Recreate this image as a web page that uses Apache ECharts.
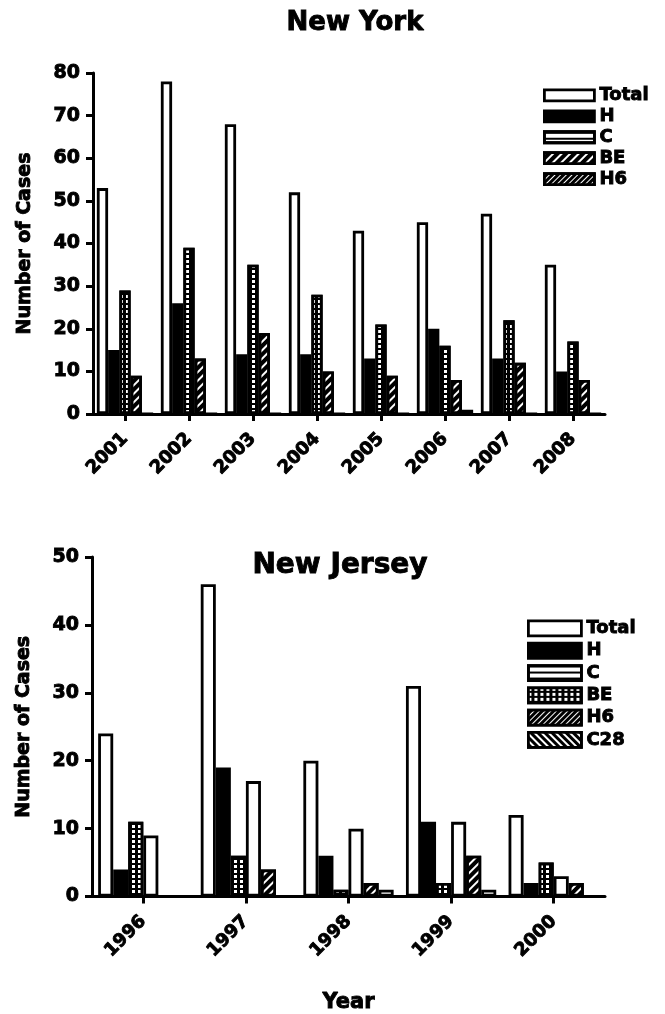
<!DOCTYPE html>
<html>
<head>
<meta charset="utf-8">
<script src="https://cdn.jsdelivr.net/npm/echarts@6/dist/echarts.min.js"></script>
<style>
html,body{margin:0;padding:0;background:#fff;}
#c{width:665px;height:1014px;}
</style>
</head>
<body>
<div id="c"></div>
<script>
// ---- data ----
var nyYears = ['2001','2002','2003','2004','2005','2006','2007','2008'];
var nyTotal = [53, 78, 68, 52, 43, 45, 47, 35];
var nyH     = [15, 26, 14, 14, 13, 20, 13, 10];
var nyC     = [29, 39, 35, 28, 21, 16, 22, 17];
var nyBE    = [9, 13, 19, 10, 9, 8, 12, 8];
var nyH6    = [0, 0, 0, 0, 0, 1, 0, 0];

var njYears = ['1996','1997','1998','1999','2000'];
var njTotal = [24, 46, 20, 31, 12];
var njH     = [4, 19, 6, 11, 2];
var njC     = [11, 6, 1, 2, 5];
var njBE    = [9, 17, 10, 11, 3];
var njH6    = [0, 4, 2, 6, 2];
var njC28   = [0, 0, 1, 1, 0];

// ---- styles ----
var FONT = 'DejaVu Sans';
function txt(size){ return {fontFamily:FONT, fontWeight:'bold', fontSize:size, color:'#000', textBorderColor:'#000', textBorderWidth:0.9}; }
var BW = 2.8;
var stWhite = {color:'#fff', borderColor:'#000', borderWidth:BW};
var stBlack = {color:'#000', borderColor:'#000', borderWidth:BW};
var stDots  = {color:'#000', borderColor:'#000', borderWidth:BW,
  decal:{symbol:'rect', color:'#fff', symbolSize:1, dashArrayX:[3,3], dashArrayY:[3,2]}};
var stHatch = {color:'#000', borderColor:'#000', borderWidth:BW,
  decal:{symbol:'rect', color:'#fff', symbolSize:1, dashArrayX:[1,0], dashArrayY:[2,4], rotation:-Math.PI/4}};
var stHatchFine = {color:'#000', borderColor:'#000', borderWidth:BW,
  decal:{symbol:'rect', color:'#fff', symbolSize:1, dashArrayX:[1,0], dashArrayY:[1,3], rotation:-Math.PI/4}};
var stBack = {color:'#000', borderColor:'#000', borderWidth:BW,
  decal:{symbol:'rect', color:'#fff', symbolSize:1, dashArrayX:[1,0], dashArrayY:[1.5,3], rotation:Math.PI/4}};
var stCLeg = {color:'#fff', borderColor:'#000', borderWidth:BW,
  decal:{symbol:'rect', color:'#000', symbolSize:1, dashArrayX:[1,0], dashArrayY:[1.5,4]}};

function bar(name, data, xi, st){
  return {type:'bar', name:name, data:data, xAxisIndex:xi, yAxisIndex:xi,
    barGap:'0%', barCategoryGap:'12%', itemStyle:st, emphasis:{disabled:true}, animation:false};
}
function yAxis(gi, max){
  return {type:'value', gridIndex:gi, min:0, max:max, interval:10,
    name:'Number of Cases', nameLocation:'middle', nameGap:58, nameTextStyle:txt(19),
    axisLine:{show:true, lineStyle:{color:'#000', width:3}},
    axisTick:{show:true, length:7, lineStyle:{color:'#000', width:3}},
    axisLabel:{margin:13, ...txt(19)},
    splitLine:{show:false}};
}
function xAxis(gi, cats, extra){
  return Object.assign({type:'category', gridIndex:gi, data:cats,
    axisLine:{show:true, lineStyle:{color:'#000', width:3}},
    axisTick:{show:true, alignWithLabel:true, length:7, lineStyle:{color:'#000', width:3}},
    axisLabel:{rotate:45, margin:22, ...txt(18)}}, extra||{});
}
function legendItem(name, st){ return {name:name, icon:'rect', itemStyle:st}; }

var option = {
  backgroundColor:'#fff',
  animation:false,
  title:[
    {text:'New York', left:350, top:5, textAlign:'center', textStyle:txt(26)},
    {text:'New Jersey', left:335, top:547, textAlign:'center', textStyle:txt(28)}
  ],
  grid:[
    {left:93, top:73, width:512, height:341},
    {left:92, top:557, width:513, height:340}
  ],
  legend:[
    {orient:'vertical', left:538, top:81, itemWidth:50, itemHeight:11, itemGap:2,
     textStyle:Object.assign(txt(18), {lineHeight:12}),
     data:[legendItem('Total',stWhite), legendItem('H',stBlack), legendItem('C',stCLeg),
           legendItem('BE',stHatch), legendItem('H6',stHatchFine)],
     selectedMode:false},
    {orient:'vertical', left:522, top:614, itemWidth:53, itemHeight:15, itemGap:3.4,
     textStyle:Object.assign(txt(18), {lineHeight:15}),
     data:[legendItem('Total ',stWhite), legendItem('H ',stBlack), legendItem('C ',stCLeg),
           legendItem('BE ',stDots), legendItem('H6 ',stHatchFine), legendItem('C28',stBack)],
     selectedMode:false}
  ],
  xAxis:[
    xAxis(0, nyYears),
    xAxis(1, njYears, {name:'Year', nameLocation:'middle', nameGap:95, nameTextStyle:txt(21)})
  ],
  yAxis:[ yAxis(0, 80), yAxis(1, 50) ],
  series:[
    bar('Total', nyTotal, 0, stWhite),
    bar('H', nyH, 0, stBlack),
    bar('C', nyC, 0, stDots),
    bar('BE', nyBE, 0, stHatch),
    bar('H6', nyH6, 0, stWhite),
    bar('Total ', njTotal, 1, stWhite),
    bar('H ', njH, 1, stBlack),
    bar('C ', njC, 1, stDots),
    bar('BE ', njBE, 1, stWhite),
    bar('H6 ', njH6, 1, stHatch),
    bar('C28', njC28, 1, stWhite)
  ]
};
var chart = echarts.init(document.getElementById('c'), null, {renderer:'canvas'});
chart.setOption(option);
</script>
</body>
</html>
